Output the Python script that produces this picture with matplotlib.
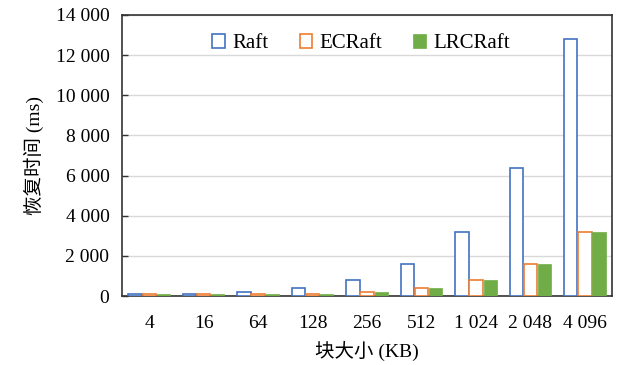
import numpy as np
import matplotlib
matplotlib.use("Agg")
import matplotlib.pyplot as plt

plt.rcParams['font.family'] = ['Liberation Serif', 'Noto Sans CJK SC']

block_sizes = ["4", "16", "64", "128", "256", "512", "1 024", "2 048", "4 096"]
raft = [100, 100, 200, 400, 800, 1600, 3200, 6400, 12800]
ecraft = [100, 100, 100, 100, 200, 400, 800, 1600, 3200]
lrcraft = [100, 100, 100, 100, 200, 400, 800, 1600, 3200]

fig = plt.figure(figsize=(6.19, 3.65), dpi=100)
ax = fig.add_axes([0.197, 0.189, 0.792, 0.770])

x = np.arange(len(block_sizes))
w = 0.245
step = 0.26

ax.bar(x - step, raft, w, facecolor='white', edgecolor='#4472C4', linewidth=1.2,
       label='Raft', zorder=3)
ax.bar(x, ecraft, w, facecolor='white', edgecolor='#ED7D31', linewidth=1.2,
       label='ECRaft', zorder=3)
ax.bar(x + step, lrcraft, w, facecolor='#70AD47', edgecolor='#70AD47', linewidth=0.5,
       label='LRCRaft', zorder=3)

ax.set_xlim(-0.5, len(block_sizes) - 0.5)
ax.set_ylim(0, 14000)
yt = np.arange(0, 14001, 2000)
ax.set_yticks(yt)
ax.set_yticklabels([f"{v:,}".replace(",", " ") for v in yt])
ax.set_xticks(x)
ax.set_xticklabels(block_sizes)

ax.yaxis.grid(True, color='#D9D9D9', linewidth=1, zorder=0)
ax.set_axisbelow(True)
ax.tick_params(axis='y', direction='in', length=4, width=1, color='#333333',
               labelsize=14, pad=9)
ax.tick_params(axis='x', length=0, labelsize=14, pad=14)
for s in ax.spines.values():
    s.set_color('#333333')
    s.set_linewidth(1.2)

ax.set_xlabel('块大小 (KB)', fontsize=14, labelpad=6)
ax.set_ylabel('恢复时间 (ms)', fontsize=14, labelpad=8)

ax.legend(loc='upper center', bbox_to_anchor=(0.488, 1.0), ncol=3, frameon=False,
          fontsize=15, handlelength=0.6, handleheight=0.7, columnspacing=1.5,
          handletextpad=0.35, borderaxespad=0.5)

fig.savefig('out.png', dpi=100)
